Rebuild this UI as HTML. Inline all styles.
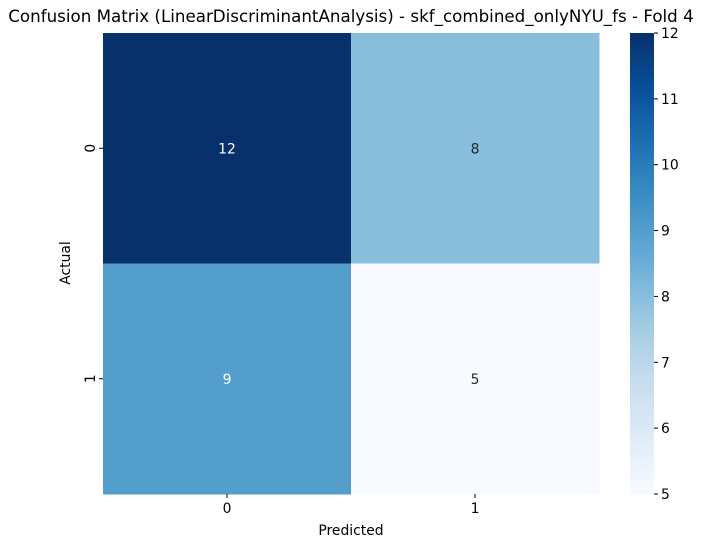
<!DOCTYPE html>
<html><head><meta charset="utf-8"><style>
body{margin:0;background:#fff;}
svg text{font-family:"DejaVu Sans","Liberation Sans",sans-serif;}
</style></head><body>
<svg width="702" height="547" xmlns="http://www.w3.org/2000/svg">
<defs>
<linearGradient id="blues" x1="0" y1="1" x2="0" y2="0">
<stop offset="0" stop-color="#f7fbff"/><stop offset="0.125" stop-color="#deebf7"/>
<stop offset="0.25" stop-color="#c6dbef"/><stop offset="0.375" stop-color="#9ecae1"/>
<stop offset="0.5" stop-color="#6baed6"/><stop offset="0.625" stop-color="#4292c6"/>
<stop offset="0.75" stop-color="#2171b5"/><stop offset="0.875" stop-color="#08519c"/>
<stop offset="1" stop-color="#08306b"/>
</linearGradient>
</defs>
<text x="351" y="22" font-size="16.7" text-anchor="middle">Confusion Matrix (LinearDiscriminantAnalysis) - skf_combined_onlyNYU_fs - Fold 4</text>
<g id="cells"></g>
<g id="axes"></g>
<rect x="630" y="33" width="24" height="461" fill="url(#blues)"/>
<g id="cbar"></g>
<text x="351" y="535" font-size="13.9" text-anchor="middle">Predicted</text>
<text x="0" y="0" font-size="13.9" text-anchor="middle" transform="translate(70,263) rotate(-90)">Actual</text>
</svg>
<script>
const labels = ["0","1"];
const matrix = [[12,8],[9,5]];
const cbarTicks = [5,6,7,8,9,10,11,12];
const vmin = 5, vmax = 12;
const NS="http://www.w3.org/2000/svg";
const X0=103,Y0=33,W=496,H=461;
const cw=W/labels.length, ch=H/labels.length;
const stops=[[247,251,255],[222,235,247],[198,219,239],[158,202,225],[107,174,214],[66,146,198],[33,113,181],[8,81,156],[8,48,107]];
function color(v){let t=(v-vmin)/(vmax-vmin)*(stops.length-1);let i=Math.min(Math.floor(t),stops.length-2);let f=t-i;
 const c=stops[i].map((a,k)=>Math.round(a+(stops[i+1][k]-a)*f));return `rgb(${c.join(',')})`;}
function mk(tag,attrs,parent){const e=document.createElementNS(NS,tag);for(const k in attrs)e.setAttribute(k,attrs[k]);parent.appendChild(e);return e;}
const cells=document.getElementById('cells'),axes=document.getElementById('axes'),cb=document.getElementById('cbar');
matrix.forEach((row,r)=>row.forEach((v,c)=>{
 const rc=mk('rect',{x:X0+c*cw,y:Y0+r*ch,width:cw+0.5,height:ch+0.5,fill:color(v)},cells);
 
 
 const t=mk('text',{x:X0+(c+0.5)*cw,y:Y0+(r+0.5)*ch+5,'font-size':13.9,'text-anchor':'middle',fill:(v-vmin)/(vmax-vmin)>0.5?'#fff':'#262626'},cells);
 t.textContent=v;
 
 
}));
labels.forEach((l,i)=>{
 const x=X0+(i+0.5)*cw;
 mk('line',{x1:x,x2:x,y1:Y0+H,y2:Y0+H+4,stroke:'#000'},axes);
 const t=mk('text',{x:x,y:Y0+H+19,'font-size':13.9,'text-anchor':'middle'},axes);t.textContent=l;
 
 
 const y=Y0+(i+0.5)*ch;
 mk('line',{x1:X0-4,x2:X0,y1:y,y2:y,stroke:'#000'},axes);
 const ty=mk('text',{x:0,y:0,'font-size':13.9,'text-anchor':'middle',transform:`translate(${X0-8},${y}) rotate(-90)`},axes);ty.textContent=l;
 
 
});
cbarTicks.forEach(v=>{
 const y=Y0+H-(v-vmin)/(vmax-vmin)*H;
 mk('line',{x1:654,x2:658,y1:y,y2:y,stroke:'#000'},cb);
 const t=mk('text',{x:661,y:y+5,'font-size':13.9},cb);t.textContent=v;
 
 
});
</script>
</body></html>
